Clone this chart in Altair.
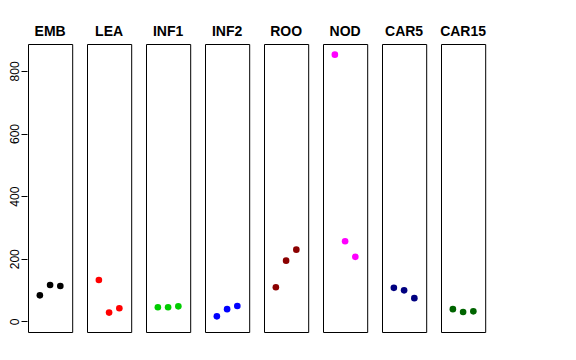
import altair as alt
import pandas as pd

panels = ["EMB", "LEA", "INF1", "INF2", "ROO", "NOD", "CAR5", "CAR15"]
colors = ["#000000", "#FF0000", "#00CD00", "#0000FF", "#8B0000", "#FF00FF", "#000080", "#006400"]
positions = [1, 2, 3]
values = [
    [83, 116, 113],
    [132, 28, 42],
    [45, 45, 48],
    [16, 39, 49],
    [109, 194, 229],
    [852, 256, 206],
    [107, 99, 74],
    [39, 30, 32],
]

rows = []
for p, c, vals in zip(panels, colors, values):
    for x, v in zip(positions, vals):
        rows.append({"panel": p, "x": x, "y": v, "col": c})
df = pd.DataFrame(rows)

base = alt.Chart(df).mark_circle(size=44, opacity=1).encode(
    x=alt.X("x:Q", scale=alt.Scale(domain=[-0.16, 4.16], nice=False, zero=False), axis=None),
    y=alt.Y("y:Q", scale=alt.Scale(domain=[-34, 886], nice=False, zero=False),
            axis=alt.Axis(values=[0, 200, 400, 600, 800], title=None, grid=False, domain=False,
                          labelAngle=270, labelAlign="center", labelBaseline="bottom",
                          labelFont="Liberation Sans", labelFontSize=12, labelColor="black",
                          tickColor="black", tickSize=6, labelPadding=0)),
    color=alt.Color("col:N", scale=None),
).properties(width=44.2, height=288)

chart = base.facet(
    column=alt.Column("panel:N", sort=panels,
                      header=alt.Header(title=None, labelFont="Liberation Sans", labelFontSize=14,
                                        labelFontWeight="bold", labelColor="black", labelPadding=4)),
    spacing=13,
).properties(padding={"left": 0, "top": 17, "right": 0, "bottom": 0}).configure(
    background="white"
).configure_view(
    stroke="black", strokeWidth=1
)

chart.save("out.html", embed_options={"renderer": "svg", "actions": False})
